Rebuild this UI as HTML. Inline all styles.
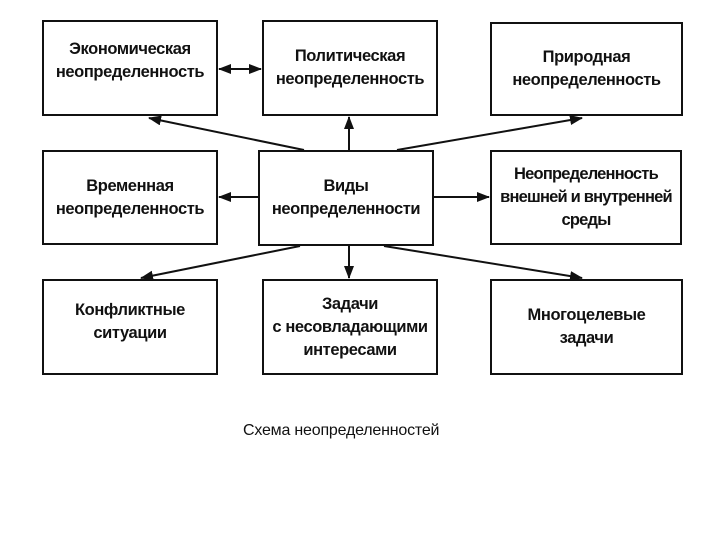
<!DOCTYPE html>
<html><head><meta charset="utf-8"><style>
body{margin:0;width:720px;height:540px;background:#fff;position:relative;overflow:hidden;font-family:"Liberation Sans",sans-serif}
.b{position:absolute;border:2px solid #111;box-sizing:border-box;display:flex;align-items:center;justify-content:center;text-align:center;font-size:16.5px;line-height:23px;color:#111;font-weight:bold;letter-spacing:-0.4px}
.cap{position:absolute;left:243px;top:422px;font-size:16px;color:#111;letter-spacing:-0.2px}
</style></head><body>
<div class="b" style="left:42px;top:20px;width:176px;height:96px;padding-bottom:14px">Экономическая<br>неопределенность</div>
<div class="b" style="left:262px;top:20px;width:176px;height:96px">Политическая<br>неопределенность</div>
<div class="b" style="left:490px;top:22px;width:193px;height:94px">Природная<br>неопределенность</div>
<div class="b" style="left:42px;top:150px;width:176px;height:95px">Временная<br>неопределенность</div>
<div class="b" style="left:258px;top:150px;width:176px;height:96px">Виды<br>неопределенности</div>
<div class="b" style="left:490px;top:150px;width:192px;height:95px;white-space:nowrap;letter-spacing:-0.8px">Неопределенность<br>внешней и внутренней<br>среды</div>
<div class="b" style="left:42px;top:279px;width:176px;height:96px;padding-bottom:10px">Конфликтные<br>ситуации</div>
<div class="b" style="left:262px;top:279px;width:176px;height:96px;white-space:nowrap">Задачи<br>с несовладающими<br>интересами</div>
<div class="b" style="left:490px;top:279px;width:193px;height:96px">Многоцелевые<br>задачи</div>
<svg width="720" height="540" style="position:absolute;left:0;top:0">
<defs><marker id="a" markerWidth="13" markerHeight="10" refX="12" refY="5" orient="auto" markerUnits="userSpaceOnUse"><path d="M0,0 L13,5 L0,10 z" fill="#111"/></marker></defs>
<g stroke="#111" stroke-width="2" fill="none">
<line x1="304" y1="150" x2="149" y2="118" marker-end="url(#a)"/>
<line x1="349" y1="150" x2="349" y2="117" marker-end="url(#a)"/>
<line x1="397" y1="150" x2="582" y2="118" marker-end="url(#a)"/>
<line x1="258" y1="197" x2="219" y2="197" marker-end="url(#a)"/>
<line x1="434" y1="197" x2="489" y2="197" marker-end="url(#a)"/>
<line x1="300" y1="246" x2="141" y2="278" marker-end="url(#a)"/>
<line x1="349" y1="246" x2="349" y2="278" marker-end="url(#a)"/>
<line x1="384" y1="246" x2="582" y2="278" marker-end="url(#a)"/>
<line x1="240" y1="69" x2="219" y2="69" marker-end="url(#a)"/>
<line x1="240" y1="69" x2="261" y2="69" marker-end="url(#a)"/>
</g></svg>
<div class="cap">Схема неопределенностей</div>
</body></html>
